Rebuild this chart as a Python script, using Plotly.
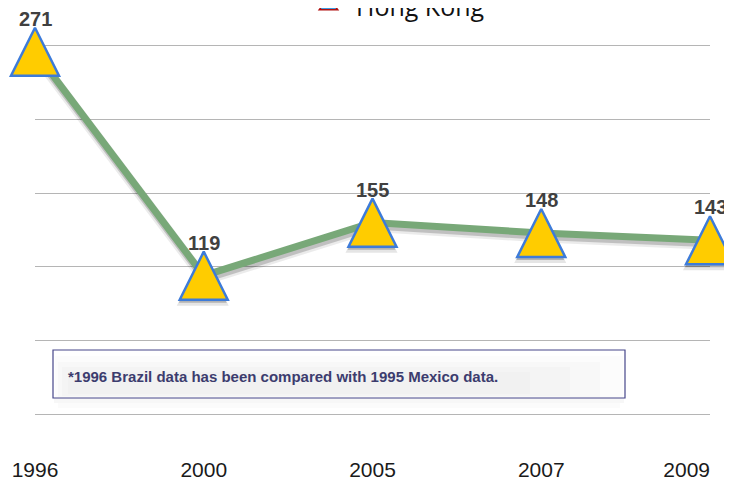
import plotly.graph_objects as go

# ---------------- data ----------------
years = ["1996", "2000", "2005", "2007", "2009"]
hong_kong = [271, 119, 155, 148, 143]
grid_values = [25, 75, 125, 175, 225, 275]
series_name = "Hong Kong"
note_text = "*1996 Brazil data has been compared with 1995 Mexico data."

# ---------------- geometry (screen pixels; page body has an 8px margin) ----------------
W, H = 732, 483
OFF = 8
PLOT_L, PLOT_R, PLOT_T, PLOT_B = 35, 710, 9, 451
M = dict(l=PLOT_L - OFF, r=W - (PLOT_R - OFF), t=PLOT_T - OFF, b=H - (PLOT_B - OFF))
Y_RANGE = [0, 300]
xpos = list(range(len(years)))
X_RANGE = [xpos[0], xpos[-1]]
plot_w = PLOT_R - PLOT_L
plot_h = PLOT_B - PLOT_T
px_per_x = plot_w / (X_RANGE[1] - X_RANGE[0])
px_per_y = plot_h / (Y_RANGE[1] - Y_RANGE[0])


def shifted(xs, ys, dx_px, dy_px):
    return [x + dx_px / px_per_x for x in xs], [y - dy_px / px_per_y for y in ys]


def paper_x(px):
    return (px - PLOT_L) / plot_w


def paper_y(py):
    return (PLOT_B - py) / plot_h


LINE_COLOR = "#78a878"
FILL = "#ffcc00"
EDGE = "#3d7bd9"
SIZE = 48

fig = go.Figure()

# line shadow
for w, a, d in [(11, 0.08, 4), (8, 0.18, 3)]:
    sx, sy = shifted(xpos, hong_kong, 1, d)
    fig.add_trace(go.Scatter(x=sx, y=sy, mode="lines",
                             line=dict(color=f"rgba(0,0,0,{a})", width=w),
                             hoverinfo="skip", showlegend=False, cliponaxis=False))
# main line
fig.add_trace(go.Scatter(x=xpos, y=hong_kong, mode="lines",
                         line=dict(color=LINE_COLOR, width=7),
                         hoverinfo="skip", showlegend=False, cliponaxis=False))

# marker shadows
for s, a, d in [(SIZE + 4, 0.10, 4), (SIZE, 0.22, 3)]:
    sx, sy = shifted(xpos, hong_kong, -1, d)
    fig.add_trace(go.Scatter(x=sx, y=sy, mode="markers",
                             marker=dict(size=s, color=f"rgba(0,0,0,{a})",
                                         line=dict(width=0), symbol="arrow-down",
                                         angle=180, standoff=s / 2),
                             hoverinfo="skip", showlegend=False, cliponaxis=False))
# markers (up-pointing triangle centred on the point)
fig.add_trace(go.Scatter(x=xpos, y=hong_kong, mode="markers", name=series_name,
                         marker=dict(size=SIZE, color=FILL, symbol="arrow-down",
                                     angle=180, standoff=SIZE / 2,
                                     line=dict(color=EDGE, width=2.5)),
                         showlegend=False, cliponaxis=False))
# legend entry (also anchors the secondary x axis)
fig.add_trace(go.Scatter(x=[None], y=[None], mode="markers", name=series_name,
                         xaxis="x2",
                         marker=dict(symbol="triangle-up", size=20, color="#3e9be0",
                                     line=dict(color="#b01010", width=1.5)),
                         showlegend=True))

# data labels
for x, v in zip(xpos, hong_kong):
    fig.add_annotation(x=x, y=v, text=str(v), showarrow=False, yshift=33,
                       font=dict(family="Liberation Sans, Arial, sans-serif",
                                 size=20, color="#404040", weight="bold"))

# note box with soft shading
bx0, bx1, by0, by1 = 53, 625, 350, 398
for (x0, x1, y0, y1, a) in [(55, 623, 356, 398, 0.012), (58, 600, 362, 397, 0.014),
                            (62, 570, 367, 396, 0.014), (68, 530, 372, 394, 0.012),
                            (54, 624, 398, 403, 0.03), (58, 620, 403, 408, 0.015)]:
    fig.add_shape(type="rect", xref="paper", yref="paper",
                  x0=paper_x(x0), x1=paper_x(x1), y0=paper_y(y1), y1=paper_y(y0),
                  line=dict(width=0), fillcolor=f"rgba(0,0,0,{a})", layer="below")
fig.add_shape(type="rect", xref="paper", yref="paper",
              x0=paper_x(bx0), x1=paper_x(bx1), y0=paper_y(by1), y1=paper_y(by0),
              line=dict(color="#46468a", width=1.2), fillcolor="rgba(0,0,0,0)",
              layer="above")
fig.add_annotation(xref="paper", yref="paper", x=paper_x(66), y=paper_y(376),
                   xanchor="left", yanchor="middle", text=note_text, showarrow=False,
                   font=dict(family="Liberation Sans, Arial, sans-serif", size=15,
                             color="#3c3c6e", weight="bold"))

tick_font = dict(family="Liberation Sans, Arial, sans-serif", size=21, color="#1a1a1a")

fig.update_layout(
    width=W, height=H,
    margin=dict(l=M["l"], r=M["r"], t=M["t"], b=M["b"], pad=0, autoexpand=False),
    paper_bgcolor="white", plot_bgcolor="white",
    showlegend=True,
    legend=dict(x=paper_x(301), y=paper_y(6), xanchor="left", yanchor="middle",
                orientation="h", bgcolor="rgba(0,0,0,0)", itemwidth=45,
                font=dict(family="Open Sans, sans-serif", size=25, color="#111111")),
    xaxis=dict(range=X_RANGE, tickvals=xpos[:-1], ticktext=years[:-1], showgrid=False,
               zeroline=False, showline=False, ticks="", ticklabelstandoff=4,
               tickfont=tick_font),
    xaxis2=dict(range=X_RANGE, overlaying="x", anchor="y", side="bottom",
                tickvals=xpos[-1:], ticktext=years[-1:], ticklabelposition="outside left",
                showgrid=False, zeroline=False, showline=False, ticks="",
                ticklabelstandoff=4, tickfont=tick_font),
    yaxis=dict(range=Y_RANGE, tickvals=grid_values, showticklabels=False,
               showgrid=True, gridcolor="#b5b5b5", gridwidth=1,
               zeroline=False, showline=False, ticks=""),
)

fig.write_html("out.html")
